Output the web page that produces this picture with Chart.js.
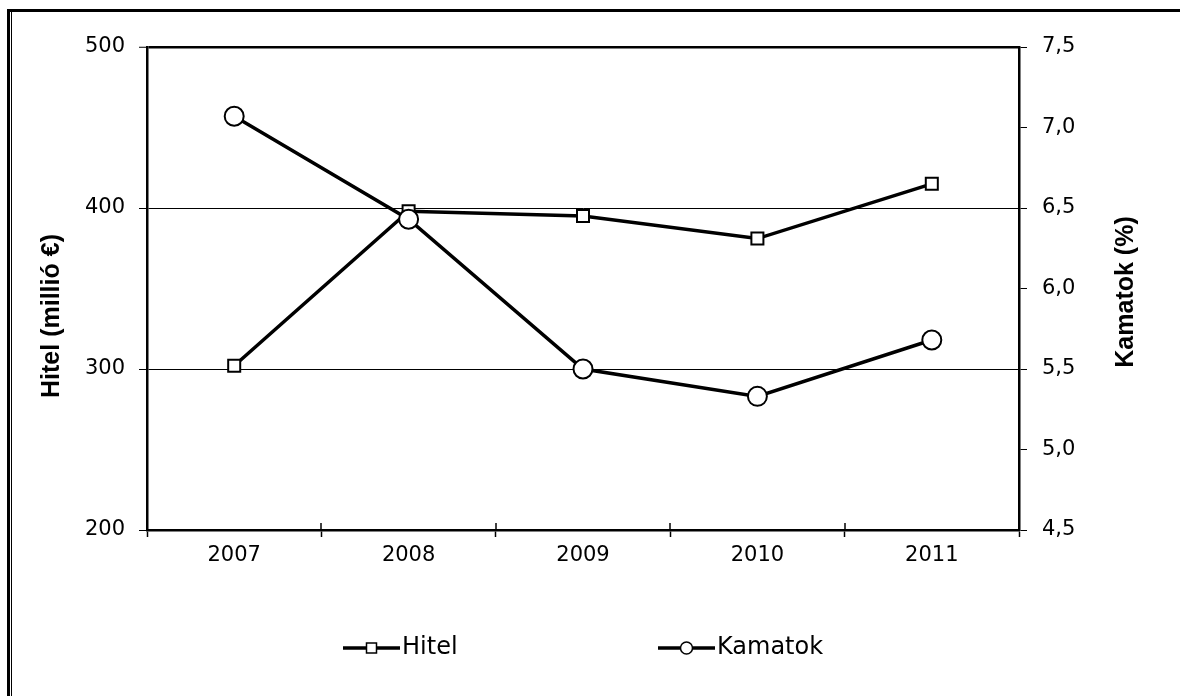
<!DOCTYPE html>
<html>
<head>
<meta charset="utf-8">
<title>Hitel és kamatok</title>
<script src="https://cdn.jsdelivr.net/npm/chart.js@4/dist/chart.umd.min.js"></script>
<style>
  html, body { margin: 0; padding: 0; background: #fff; overflow: hidden; }
  #wrap { position: relative; width: 1180px; height: 696px; }
  #chart { position: absolute; left: 0; top: 0; }
  /* keret: vastag felső és bal vonal, mellette egy vékony belső vonal */
  .frame { position: absolute; left: 7px; top: 9px; width: 1200px; height: 720px;
           border-top: 3px solid #000; border-left: 3px solid #000; }
  .frame-inner { position: absolute; left: 11px; top: 12px; width: 1px; height: 700px; background: #000; }
</style>
</head>
<body>
<div id="wrap">
  <canvas id="chart" width="1180" height="696"></canvas>
  <div class="frame"></div>
  <div class="frame-inner"></div>
</div>
<script>
// adatok
const years = ['2007', '2008', '2009', '2010', '2011'];
const hitel = [302, 398, 395, 381, 415];          // millió €
const kamatok = [7.07, 6.43, 5.50, 5.33, 5.68];   // %
const hitelTicks = [200, 300, 400, 500];
const kamatokTicks = [4.5, 5.0, 5.5, 6.0, 6.5, 7.0, 7.5];
const hitelTitle = 'Hitel (millió €)';
const kamatokTitle = 'Kamatok (%)';

const tickFont = { family: 'DejaVu Sans', size: 21 };
const legendFont = '24px "DejaVu Sans"';
const titleFont = 'bold 25px "Liberation Sans", Arial, sans-serif';

// tengelycímek, mindkettő alulról felfelé olvasható
const axisTitles = {
    id: 'axisTitles',
    afterDraw(chart) {
        const ctx = chart.ctx;
        const a = chart.chartArea;
        const items = [
            { text: hitelTitle, x: a.left - 95, y: a.top + 269 },
            { text: kamatokTitle, x: a.right + 107, y: a.top + 245 }
        ];
        ctx.save();
        ctx.fillStyle = '#000';
        ctx.font = titleFont;
        ctx.textAlign = 'center';
        ctx.textBaseline = 'middle';
        items.forEach(it => {
            ctx.save();
            ctx.translate(it.x, it.y);
            ctx.rotate(-Math.PI / 2);
            ctx.fillText(it.text, 0, 0);
            ctx.restore();
        });
        ctx.restore();
    }
};

// a kategória tengely osztásai a tengelyen átnyúlnak (befelé is)
const innerTicks = {
    id: 'innerTicks',
    afterDatasetsDraw(chart) {
        const xs = chart.scales.x;
        const ctx = chart.ctx;
        const bottom = chart.chartArea.bottom;
        ctx.save();
        ctx.strokeStyle = '#000';
        ctx.lineWidth = 1.5;
        for (let i = 0; i <= years.length; i++) {
            const px = Math.round(xs.getPixelForValue(i - 0.5));
            ctx.beginPath();
            ctx.moveTo(px, bottom - 7);
            ctx.lineTo(px, bottom);
            ctx.stroke();
        }
        ctx.restore();
    }
};

// jelmagyarázat: vonal + jelölő + felirat
const lineLegend = {
    id: 'lineLegend',
    afterDraw(chart) {
        const ctx = chart.ctx;
        const y = 648;
        const entries = [
            { ds: chart.data.datasets[0], x0: 343 },
            { ds: chart.data.datasets[1], x0: 658 }
        ];
        ctx.save();
        entries.forEach(e => {
            const x1 = e.x0 + 57;
            const cx = (e.x0 + x1) / 2;
            ctx.strokeStyle = '#000';
            ctx.lineWidth = 3.5;
            ctx.beginPath();
            ctx.moveTo(e.x0, y);
            ctx.lineTo(x1, y);
            ctx.stroke();
            ctx.fillStyle = '#fff';
            ctx.lineWidth = 1.5;
            ctx.beginPath();
            if (e.ds.pointStyle === 'rect') {
                ctx.rect(cx - 5, y - 5, 10, 10);
            } else {
                ctx.arc(cx, y, 6, 0, Math.PI * 2);
            }
            ctx.fill();
            ctx.stroke();
            ctx.fillStyle = '#000';
            ctx.font = legendFont;
            ctx.textAlign = 'left';
            ctx.textBaseline = 'middle';
            ctx.fillText(e.ds.label, x1 + 2, y);
        });
        ctx.restore();
    }
};

const ctx = document.getElementById('chart').getContext('2d');
new Chart(ctx, {
    type: 'line',
    data: {
        labels: years,
        datasets: [
            {
                label: 'Hitel',
                data: hitel,
                yAxisID: 'y',
                borderColor: '#000',
                borderWidth: 3.5,
                pointStyle: 'rect',
                pointRadius: 8.5,
                pointBorderWidth: 2,
                pointBorderColor: '#000',
                pointBackgroundColor: '#fff',
                tension: 0,
                order: 1
            },
            {
                label: 'Kamatok',
                data: kamatok,
                yAxisID: 'y1',
                borderColor: '#000',
                borderWidth: 3.5,
                pointStyle: 'circle',
                pointRadius: 9.5,
                pointBorderWidth: 2,
                pointBorderColor: '#000',
                pointBackgroundColor: '#fff',
                tension: 0,
                order: 0
            }
        ]
    },
    options: {
        responsive: false,
        animation: false,
        devicePixelRatio: 1,
        layout: { padding: { top: 47, left: 0, right: 0, bottom: 0 } },
        plugins: {
            legend: { display: false },
            tooltip: { enabled: false }
        },
        scales: {
            x: {
                type: 'category',
                offset: true,
                afterFit: s => { s.height = 166; },
                border: { display: true, color: '#000', width: 2.5 },
                grid: { offset: true, drawOnChartArea: false, color: '#000', tickLength: 7, tickWidth: 1.5 },
                ticks: { color: '#000', font: tickFont, padding: 6, maxRotation: 0 }
            },
            y: {
                position: 'left',
                min: hitelTicks[0],
                max: hitelTicks[hitelTicks.length - 1],
                afterFit: s => { s.width = 147; },
                afterBuildTicks: s => { s.ticks = hitelTicks.map(v => ({ value: v })); },
                border: { display: true, color: '#000', width: 2.5 },
                grid: {
                    color: '#000',
                    lineWidth: c => (c.tick && c.tick.value === 500 ? 2.5 : 1),
                    tickLength: 8,
                    tickWidth: 1,
                    tickColor: '#000'
                },
                ticks: { color: '#000', font: tickFont, padding: 14 }
            },
            y1: {
                position: 'right',
                min: kamatokTicks[0],
                max: kamatokTicks[kamatokTicks.length - 1],
                afterFit: s => { s.width = 161; },
                afterBuildTicks: s => { s.ticks = kamatokTicks.map(v => ({ value: v })); },
                border: { display: true, color: '#000', width: 2.5 },
                grid: { drawOnChartArea: false, color: '#000', tickLength: 8, tickWidth: 1 },
                ticks: {
                    color: '#000',
                    font: tickFont,
                    padding: 15,
                    callback: v => Number(v).toFixed(1).replace('.', ',')
                }
            }
        }
    },
    plugins: [axisTitles, innerTicks, lineLegend]
});
</script>
</body>
</html>
